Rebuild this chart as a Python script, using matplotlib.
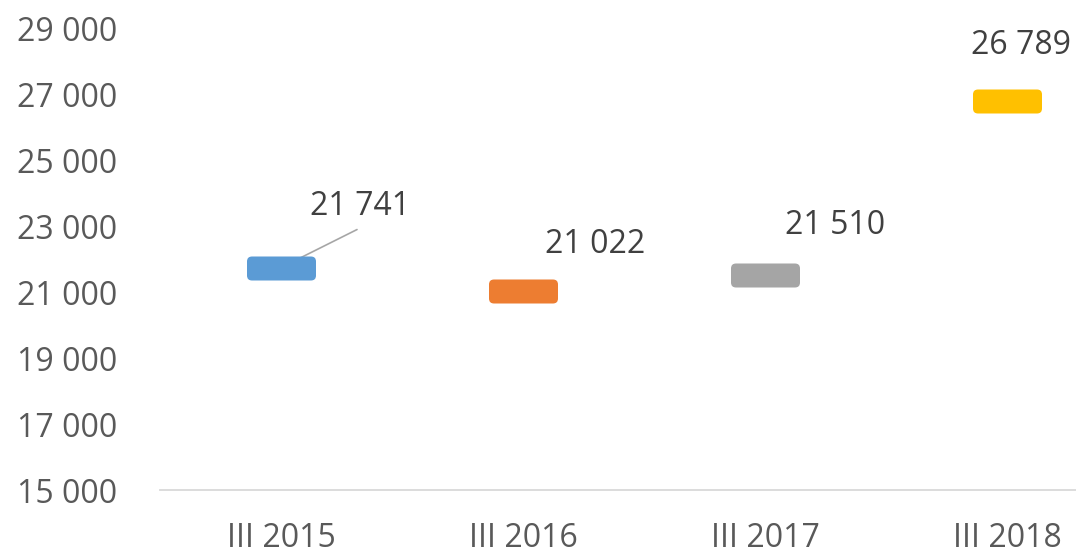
import matplotlib
matplotlib.use("Agg")
import matplotlib.pyplot as plt
from matplotlib.patches import FancyBboxPatch
from matplotlib.ticker import FuncFormatter

# chart data
periods = ["III 2015", "III 2016", "III 2017", "III 2018"]
values = [21741, 21022, 21510, 26789]
colors = ["#5b9bd5", "#ed7d31", "#a5a5a5", "#ffc000"]
y_ticks = [15000, 17000, 19000, 21000, 23000, 25000, 27000, 29000]

# label offsets in pixels (dx, dy) relative to each marker
label_offsets = [(79, 61), (72, 47), (70, 50), (14, 55)]

plt.rcParams["font.family"] = ["Open Sans", "DejaVu Sans"]

W, H = 1076, 553
fig = plt.figure(figsize=(W / 100, H / 100), dpi=100)
left, right, bottom, top = 160, 1076, 490, 28
ax = fig.add_axes([left / W, 1 - bottom / H, (right - left) / W, (bottom - top) / H])

# rounded rectangle marker built from a FancyBboxPatch path
box = FancyBboxPatch((-34.5, -12), 69, 24, boxstyle="round,pad=0,rounding_size=5")
box_path = box.get_path()
marker_w = 69 * 72 / 100  # points

xs = list(range(len(periods)))
for x, v, c in zip(xs, values, colors):
    ax.plot([x], [v], marker=box_path, markersize=marker_w, color=c,
            markeredgewidth=0, linestyle="none", zorder=3)

px = 72 / 100  # pixel -> points
for i, (x, v) in enumerate(zip(xs, values)):
    dx, dy = label_offsets[i]
    txt = f"{v:,}".replace(",", " ")
    ax.annotate(txt, (x, v), xytext=(dx * px, dy * px), textcoords="offset points",
                ha="center", va="center", fontsize=23, color="#404040", zorder=4)

# leader line for the first label
ax.annotate("", (xs[0], values[0]), xytext=(76 * px, 38 * px), textcoords="offset points",
            arrowprops=dict(arrowstyle="-", color="#a6a6a6", lw=1.2, shrinkA=0, shrinkB=0),
            zorder=2)

ax.set_xlim(-0.5, -0.5 + (right - left) / 242)
ax.set_ylim(15000, 29000)
ax.set_yticks(y_ticks)
ax.yaxis.set_major_formatter(FuncFormatter(lambda v, p: f"{int(v):,}".replace(",", " ")))
ax.set_xticks(xs)
ax.set_xticklabels(periods)

for s in ["top", "right", "left"]:
    ax.spines[s].set_visible(False)
ax.spines["bottom"].set_color("#d9d9d9")
ax.spines["bottom"].set_linewidth(1.3)
ax.tick_params(axis="y", length=0, pad=31, labelsize=23, labelcolor="#595959")
ax.tick_params(axis="x", length=0, pad=23, labelsize=23, labelcolor="#595959")
ax.set_facecolor("white")
fig.patch.set_facecolor("white")

fig.savefig("out.png", dpi=100)
